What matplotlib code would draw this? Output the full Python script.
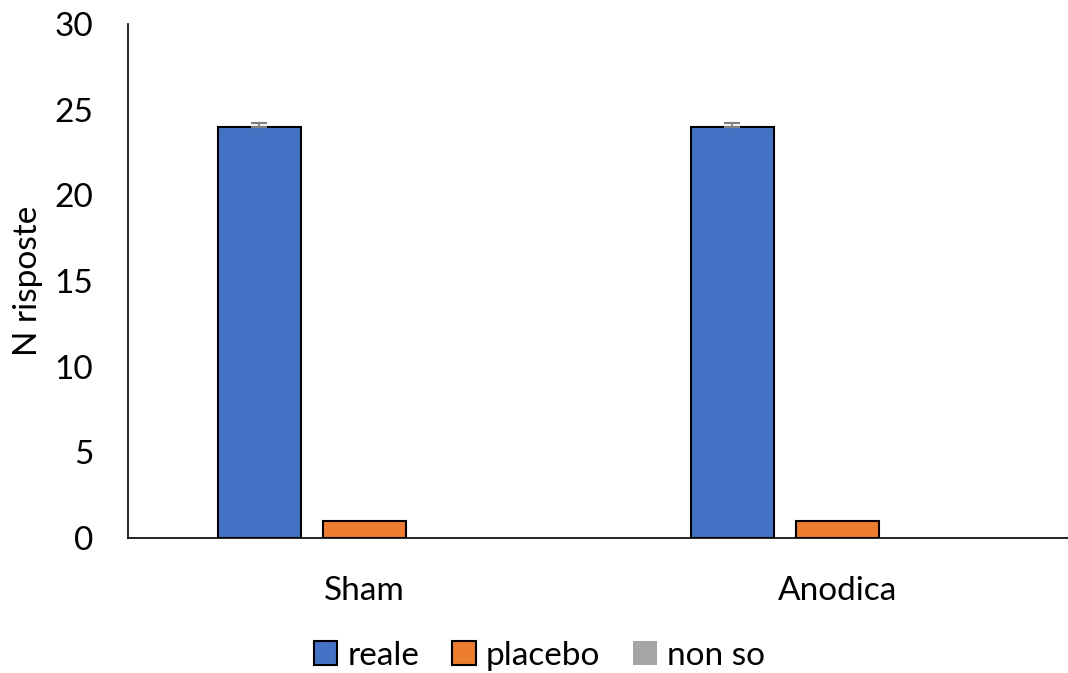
import matplotlib
matplotlib.use("Agg")
import matplotlib.pyplot as plt
import numpy as np
from matplotlib.patches import Patch

plt.rcParams['font.family'] = ['Lato', 'DejaVu Sans']

categories = ["Sham", "Anodica"]
series_names = ["reale", "placebo", "non so"]
reale = [24, 24]
placebo = [1, 1]
non_so = [0, 0]
reale_err = [0.2, 0.2]
y_ticks = [0, 5, 10, 15, 20, 25, 30]

colors = ["#4472C4", "#ED7D31", "#A5A5A5"]
edges = ["black", "black", "none"]

W, H = 1068, 673
fig = plt.figure(figsize=(W / 100, H / 100), dpi=100)
ax = fig.add_axes([128 / W, (H - 538) / H, 946 / W, (538 - 24) / H])

x = np.arange(len(categories))
offset = 0.222
width = 0.1755
values = [reale, placebo, non_so]
errs = [reale_err, None, None]
for i, (vals, col, ec, err) in enumerate(zip(values, colors, edges, errs)):
    ax.bar(x + (i - 1) * offset, vals, width, color=col, edgecolor=ec,
           linewidth=1.5, zorder=3)
    if err is not None:
        ax.errorbar(x + (i - 1) * offset, vals, yerr=[[0, 0], err], fmt="none",
                    ecolor="#7f7f7f", elinewidth=1.2, capsize=6, capthick=1.5, zorder=4)

ax.set_xlim(-0.5, 1.5)
ax.set_ylim(0, 30)
ax.set_yticks(y_ticks)
ax.set_xticks(x)
ax.set_xticklabels(categories)
ax.tick_params(axis="both", length=0, labelsize=24, colors="black")
ax.tick_params(axis="x", pad=27)
ax.tick_params(axis="y", pad=25)
for s in ["top", "right"]:
    ax.spines[s].set_visible(False)
ax.spines["left"].set_linewidth(1.2)
ax.spines["bottom"].set_linewidth(1.2)
ax.set_ylabel("N risposte", fontsize=24, labelpad=8)

handles = [Patch(facecolor=c, edgecolor=e, linewidth=1.5) for c, e in zip(colors, edges)]
fig.legend(handles, series_names, loc="center", bbox_to_anchor=(0.505, 0.026),
           ncol=3, frameon=False, fontsize=24, handlelength=0.7, handleheight=0.7,
           handletextpad=0.3, columnspacing=1.0)

fig.savefig("out.png", dpi=100)
